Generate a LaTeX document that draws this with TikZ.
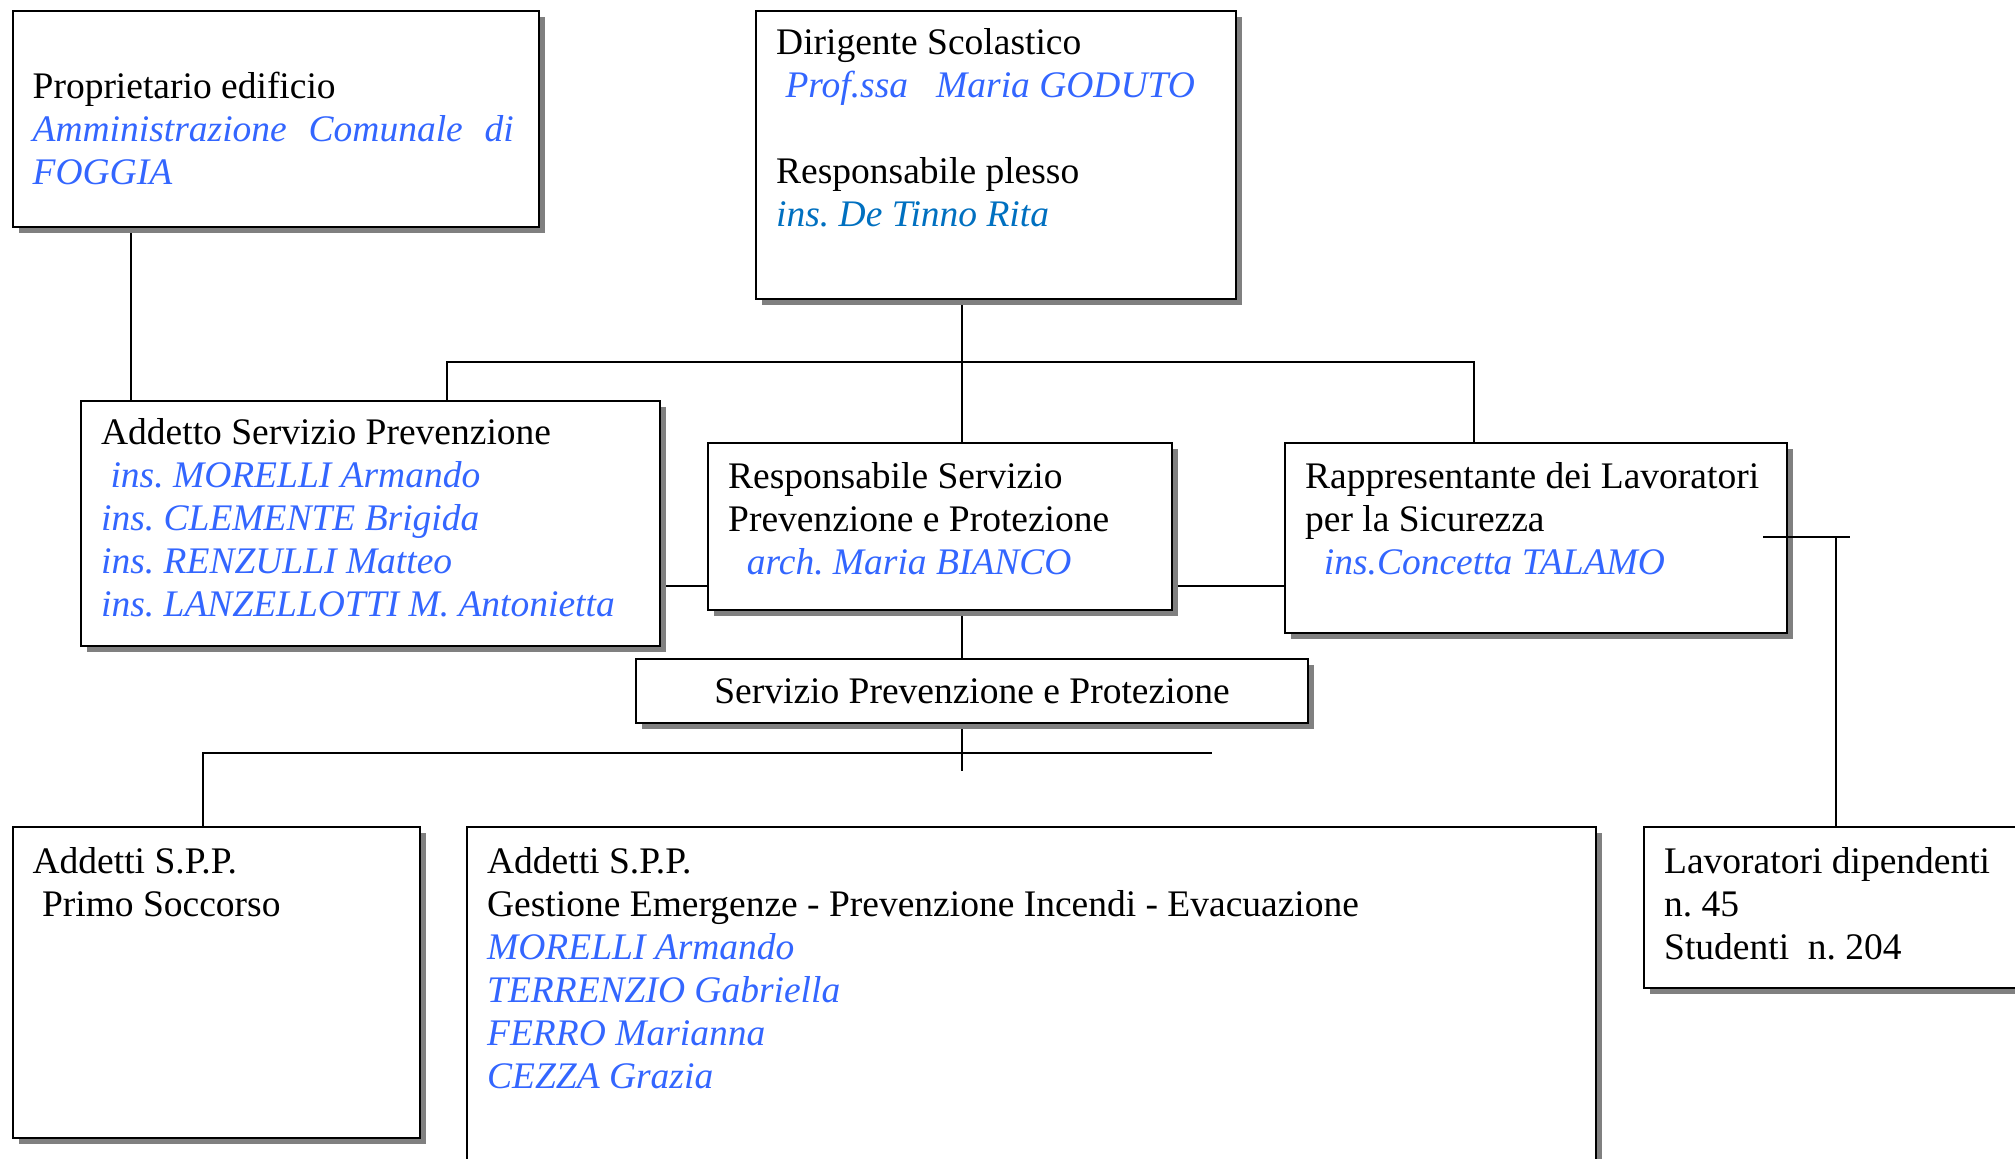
\documentclass[tikz,border=0pt]{standalone}
\usepackage{fontspec}
\setmainfont{Liberation Serif}
\usetikzlibrary{shadows,backgrounds}
\definecolor{nameblue}{RGB}{51,102,255}
\definecolor{plessoblue}{RGB}{0,112,192}
\newcommand{\nm}[1]{\textcolor{nameblue}{\itshape #1}}
\frenchspacing

\begin{document}
\begin{tikzpicture}[x=0.32pt,y=-0.32pt,
    orgbox/.style={draw,line width=0.75pt,fill=white,anchor=north west,inner xsep=6.4pt,inner ysep=0pt,
      font=\fontsize{12}{13.8}\selectfont,
      drop shadow={shadow xshift=1.9pt,shadow yshift=-1.9pt,opacity=1,fill=black!50}},
    link/.style={line width=0.6pt}
  ]
  \useasboundingbox (0,0) rectangle (2015,1159);
  \clip (0,0) rectangle (2015,1159);

  % top row
  \node[orgbox,text height=27.8pt,text depth=41.3pt] (prop) at (11.5,10)
    {\parbox[t]{155.7pt}{Proprietario edificio\\
     \makebox[154pt][l]{\nm{Amministrazione\hfill Comunale\hfill di}}\\
     \nm{FOGGIA}}};
  \node[orgbox,text height=13.8pt,text depth=78.4pt] (dir) at (755,10)
    {\parbox[t]{140.8pt}{Dirigente Scolastico\\
     \hspace*{3pt}\nm{Prof.ssa\hspace{9pt}Maria GODUTO}\\
     \mbox{}\\
     Responsabile plesso\\
     \textcolor{plessoblue}{\itshape ins. De Tinno Rita}}};

  % middle row
  \node[orgbox,text height=13.8pt,text depth=64.6pt] (addsp) at (80,400)
    {\parbox[t]{172.5pt}{Addetto Servizio Prevenzione\\
     \hspace*{3pt}\nm{ins. MORELLI Armando}\\
     \nm{ins. CLEMENTE Brigida}\\
     \nm{ins. RENZULLI Matteo}\\
     \nm{ins. LANZELLOTTI M. Antonietta}}};
  \node[orgbox,text height=14.4pt,text depth=39pt] (rspp) at (707,442)
    {\parbox[t]{135.7pt}{Responsabile Servizio\\
     Prevenzione e Protezione\\
     \hspace*{6pt}\nm{arch. Maria BIANCO}}};
  \node[orgbox,text height=14.4pt,text depth=46.4pt] (rls) at (1284,442)
    {\parbox[t]{147.8pt}{Rappresentante dei Lavoratori\\
     per la Sicurezza\\
     \hspace*{6pt}\nm{ins.Concetta TALAMO}}};
  \node[orgbox,text height=14.1pt,text depth=6.4pt] (spp) at (635,658)
    {\parbox[t]{202.2pt}{\centering Servizio Prevenzione e Protezione}};

  % bottom row
  \node[orgbox,text height=14.7pt,text depth=84.8pt] (ps) at (11.5,826)
    {\parbox[t]{117.6pt}{Addetti S.P.P.\\
     \hspace*{3pt}Primo Soccorso}};
  \node[orgbox,text height=14.7pt,text depth=113.3pt] (gest) at (466,826)
    {\parbox[t]{348.5pt}{Addetti S.P.P.\\
     Gestione Emergenze - Prevenzione Incendi - Evacuazione\\
     \nm{MORELLI Armando}\\
     \nm{TERRENZIO Gabriella}\\
     \nm{FERRO Marianna}\\
     \nm{CEZZA Grazia}}};
  \node[orgbox,text height=14.7pt,text depth=36.8pt] (lav) at (1643,826)
    {\parbox[t]{140pt}{Lavoratori dipendenti\\
     n. 45\\
     Studenti\hspace{6pt}n. 204}};

  % connectors
  \coordinate (propx) at (131,0);
  \coordinate (spine) at (962,362);
  \coordinate (barL) at (447,362);
  \coordinate (barR) at (1474,362);
  \coordinate (midrow) at (0,586);
  \coordinate (tail) at (962,771);
  \coordinate (lowL) at (203,753);
  \coordinate (lowR) at (1212,753);
  \coordinate (tickL) at (1763,537);
  \coordinate (tickR) at (1850,537);
  \coordinate (drop) at (1836,537);
  \begin{scope}[on background layer]
    \draw[link] (prop.south -| propx) -- (addsp.north -| propx);
    \draw[link] (dir.south -| spine) -- (rspp.north -| spine);
    \draw[link] (addsp.north -| barL) |- (barR) -- (rls.north -| barR);
    \draw[link] (addsp.east |- midrow) -- (rspp.west |- midrow);
    \draw[link] (rspp.east |- midrow) -- (rls.west |- midrow);
    \draw[link] (rspp.south -| spine) -- (spp.north -| spine);
    \draw[link] (spp.south -| tail) -- (tail);
    \draw[link] (ps.north -| lowL) |- (lowR);
  \end{scope}
  \draw[link] (tickL) -- (tickR);
  \draw[link] (drop) -- (lav.north -| drop);
\end{tikzpicture}
\end{document}
